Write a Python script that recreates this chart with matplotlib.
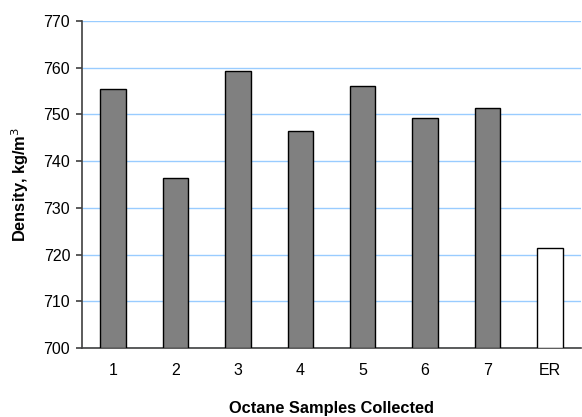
import matplotlib
matplotlib.use("Agg")
import matplotlib.pyplot as plt

categories = ["1", "2", "3", "4", "5", "6", "7", "ER"]
densities = [755.5, 736.3, 759.3, 746.5, 756.1, 749.2, 751.3, 721.3]
fill_colors = ["#808080"] * 7 + ["#ffffff"]

plt.rcParams['font.family'] = ['Liberation Sans', 'DejaVu Sans']

fig = plt.figure(figsize=(5.82, 4.17), dpi=100)
ax = fig.add_axes([82/582, 1 - 348/417, 499/582, (348 - 21)/417])

x = list(range(len(categories)))
ax.bar(x, [d - 700 for d in densities], bottom=700, width=0.41,
       color=fill_colors, edgecolor="black", linewidth=1.0, zorder=3)

ax.set_xlim(-0.5, 7.5)
ax.set_ylim(700, 770)
ax.set_yticks(range(700, 771, 10))
ax.set_xticks(x)
ax.set_xticklabels(categories)
ax.yaxis.grid(True, color="#99CCFF", linewidth=1.0, zorder=0)
ax.set_axisbelow(True)

for s in ["top", "right"]:
    ax.spines[s].set_visible(False)
ax.spines["left"].set_color("#404040")
ax.spines["bottom"].set_color("#404040")
ax.spines["left"].set_linewidth(1.2)
ax.spines["bottom"].set_linewidth(1.2)

ax.tick_params(axis="y", direction="out", length=4.5, width=1.2, color="#404040",
               labelsize=11.5, pad=4)
ax.tick_params(axis="x", length=0, labelsize=11.5, pad=11)

ax.set_xlabel("Octane Samples Collected", fontsize=11.8, fontweight="bold")
ax.xaxis.set_label_coords(0.5, -(409 - 348) / 327)
ax.xaxis.label.set_va("center")
ax.set_ylabel("Density, kg/m$^3$", fontsize=11.8, fontweight="bold")
ax.yaxis.set_label_coords((20 - 82) / 499, 0.5)
ax.yaxis.label.set_va("center")

fig.savefig("out.png", dpi=100)
